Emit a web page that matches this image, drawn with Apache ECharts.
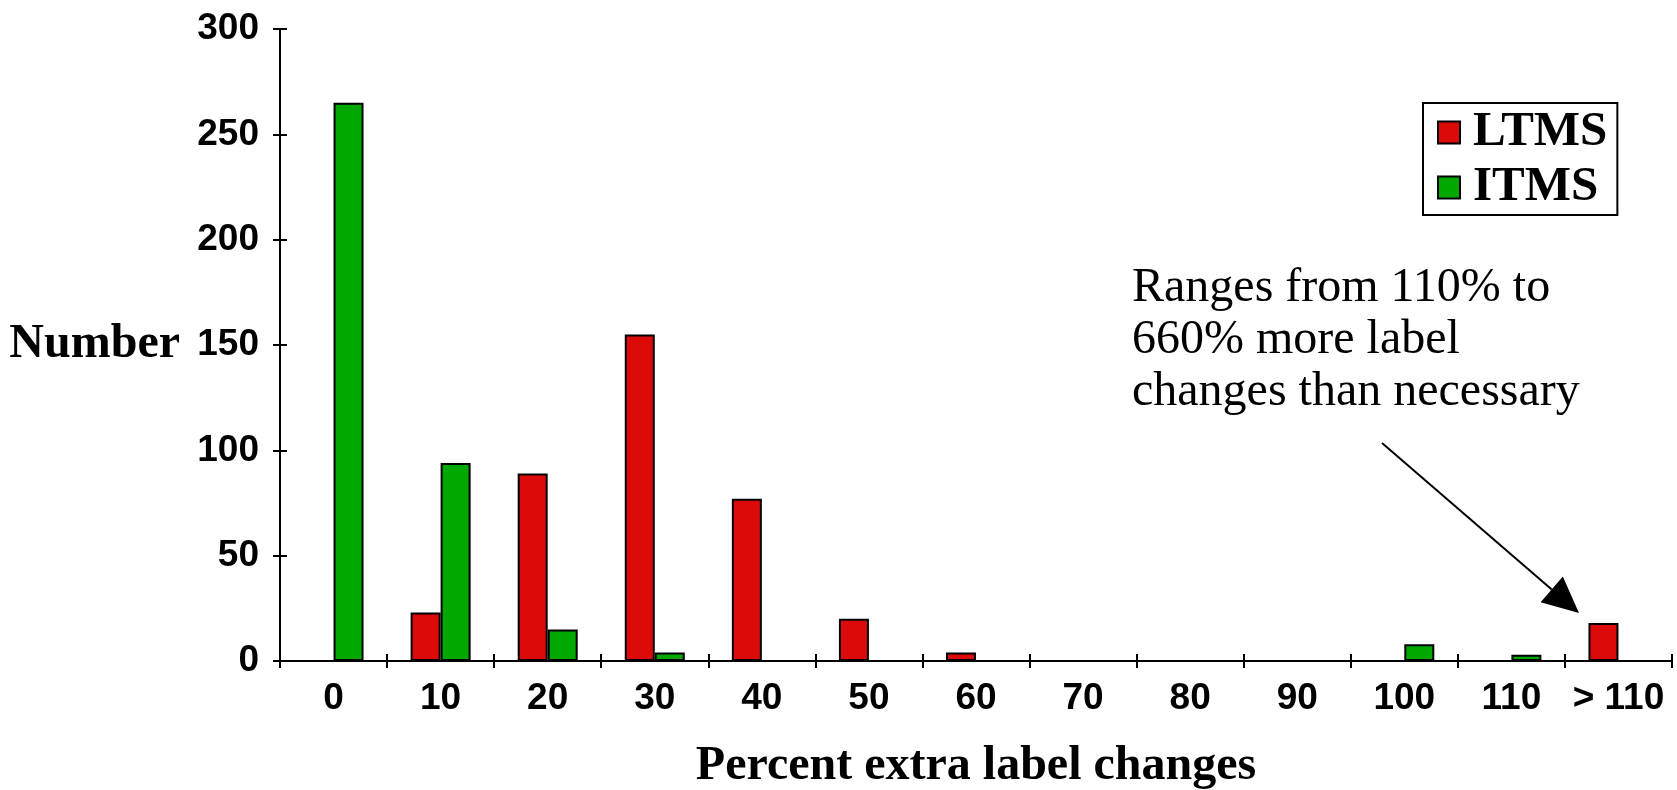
<!DOCTYPE html>
<html>
<head>
<meta charset="utf-8">
<script src="https://cdn.jsdelivr.net/npm/echarts@6/dist/echarts.min.js"></script>
<style>
  html, body { margin: 0; padding: 0; background: #fff; }
  #chart { width: 1677px; height: 790px; }
</style>
</head>
<body>
<div id="chart"></div>
<script>
// 数据
var categories = ['0', '10', '20', '30', '40', '50', '60', '70', '80', '90', '100', '110', '> 110'];
var ltms = [0, 23, 89, 155, 77, 20, 4, 0, 0, 0, 0, 0, 18];
var itms = [265, 94, 15, 4, 0, 0, 0, 0, 0, 0, 8, 3, 0];
var yTicks = { min: 0, max: 300, interval: 50 };
var noteLines = ['Ranges from 110% to', '660% more label', 'changes than necessary'];

var sans = 'Liberation Sans, Arial, sans-serif';
var serif = 'Liberation Serif, Times New Roman, serif';

var myChart = echarts.init(document.getElementById('chart'));

// 箭头 (注释用)
var arrowFrom = [1382, 443], arrowTip = [1579, 613];
function arrowGraphic(){
    var dx = arrowTip[0] - arrowFrom[0], dy = arrowTip[1] - arrowFrom[1];
    var len = Math.sqrt(dx * dx + dy * dy);
    var ux = dx / len, uy = dy / len;
    var headLen = 36, half = 17;
    var bx = arrowTip[0] - ux * headLen, by = arrowTip[1] - uy * headLen;
    return [
        {
            type: 'line',
            shape: { x1: arrowFrom[0], y1: arrowFrom[1], x2: bx, y2: by },
            style: { stroke: '#000', lineWidth: 2 }
        },
        {
            type: 'polygon',
            shape: { points: [arrowTip, [bx - uy * half, by + ux * half], [bx + uy * half, by - ux * half]] },
            style: { fill: '#000' }
        }
    ];
}

var tickStyle = { color: '#000', width: 2 };

option = {
    animation: false,
    backgroundColor: '#fff',
    grid: { left: 280, right: 5, top: 29, bottom: 129, containLabel: false, outerBoundsMode: 'none' },
    legend: {
        orient: 'vertical',
        left: 1423,
        top: 103,
        padding: [5, 10, 3, 14],
        itemGap: 6,
        itemWidth: 22,
        itemHeight: 22,
        borderColor: '#000',
        borderWidth: 2,
        icon: 'rect',
        textStyle: { fontFamily: serif, fontWeight: 'bold', fontSize: 49, color: '#000', padding: [0, 0, 0, 8] },
        data: ['LTMS', 'ITMS']
    },
    xAxis: [
        {
            type: 'category',
            data: categories,
            position: 'bottom',
            name: 'Percent extra label changes',
            nameLocation: 'middle',
            nameGap: 82,
            nameTextStyle: { fontFamily: serif, fontWeight: 'bold', fontSize: 48, color: '#000' },
            axisLine: { lineStyle: { color: '#000', width: 2 } },
            axisTick: { show: true, interval: 0, length: 7, lineStyle: tickStyle },
            axisLabel: { interval: 0, margin: 19, fontFamily: sans, fontWeight: 'bold', fontSize: 37, color: '#000' },
            splitLine: { show: false }
        },
        {
            // 内侧刻度
            type: 'category',
            data: categories,
            position: 'bottom',
            axisLine: { show: false },
            axisTick: { show: true, inside: true, interval: 0, length: 7, lineStyle: tickStyle },
            axisLabel: { show: false },
            splitLine: { show: false }
        }
    ],
    yAxis: [
        {
            type: 'value',
            min: yTicks.min,
            max: yTicks.max,
            interval: yTicks.interval,
            position: 'left',
            name: 'Number',
            nameLocation: 'middle',
            nameRotate: 0,
            nameGap: 100,
            nameTextStyle: { fontFamily: serif, fontWeight: 'bold', fontSize: 48, color: '#000' },
            axisLine: { show: true, lineStyle: { color: '#000', width: 2 } },
            axisTick: { show: true, length: 7, lineStyle: tickStyle },
            axisLabel: { margin: 21, fontFamily: sans, fontWeight: 'bold', fontSize: 37, color: '#000' },
            splitLine: { show: false }
        },
        {
            type: 'value',
            min: yTicks.min,
            max: yTicks.max,
            interval: yTicks.interval,
            position: 'left',
            axisLine: { show: false },
            axisTick: { show: true, inside: true, length: 7, lineStyle: tickStyle },
            axisLabel: { show: false },
            splitLine: { show: false }
        }
    ],
    series: [
        {
            name: 'LTMS',
            type: 'bar',
            barWidth: 30,
            barGap: '0%',
            itemStyle: { color: '#dd0a0a', borderColor: '#000', borderWidth: 2 },
            data: ltms
        },
        {
            name: 'ITMS',
            type: 'bar',
            barWidth: 30,
            barGap: '0%',
            itemStyle: { color: '#00a800', borderColor: '#000', borderWidth: 2 },
            data: itms
        }
    ],
    graphic: [
        {
            type: 'text',
            left: 1132,
            top: 262,
            style: {
                text: noteLines.join('\n'),
                fontFamily: serif,
                fontSize: 48,
                lineHeight: 52,
                fill: '#000'
            }
        }
    ].concat(arrowGraphic())
};

myChart.setOption(option);
</script>
</body>
</html>
